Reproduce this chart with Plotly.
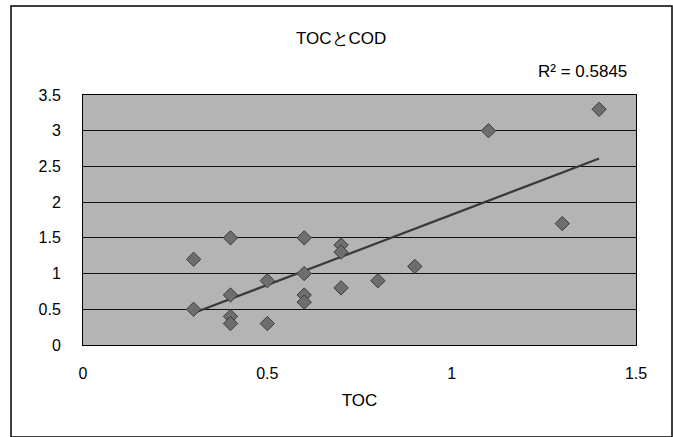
import numpy as np
import plotly.graph_objects as go

toc = [0.3, 0.3, 0.4, 0.4, 0.4, 0.4, 0.5, 0.5, 0.6, 0.6, 0.6, 0.6,
       0.7, 0.7, 0.7, 0.8, 0.9, 1.1, 1.3, 1.4]
cod = [1.2, 0.5, 1.5, 0.7, 0.4, 0.3, 0.9, 0.3, 1.5, 1.0, 0.7, 0.6,
       1.4, 1.3, 0.8, 0.9, 1.1, 3.0, 1.7, 3.3]
x_ticks = [0, 0.5, 1, 1.5]
x_ticktext = ["0", "0.5", "1", "1.5"]
y_ticks = [0, 0.5, 1, 1.5, 2, 2.5, 3, 3.5]
y_ticktext = ["0", "0.5", "1", "1.5", "2", "2.5", "3", "3.5"]
title_text = "TOCとCOD"
r2_text = "R² = 0.5845"
x_title = "TOC"

slope, intercept = np.polyfit(toc, cod, 1)
xfit = [min(toc), max(toc)]
yfit = [slope * v + intercept for v in xfit]

font = "Liberation Sans, Arial, sans-serif"

fig = go.Figure()
fig.add_trace(go.Scatter(
    x=xfit, y=yfit, mode="lines",
    line=dict(color="#3a3a3a", width=2.2), hoverinfo="skip", showlegend=False))
fig.add_trace(go.Scatter(
    x=toc, y=cod, mode="markers",
    marker=dict(symbol="diamond", size=11, color="#6e6e6e",
                line=dict(color="#3c3c3c", width=1)),
    showlegend=False))

fig.update_layout(
    width=673, height=437,
    margin=dict(l=83, r=37, t=95, b=92),
    paper_bgcolor="white",
    plot_bgcolor="#b4b4b4",
    font=dict(family=font, size=16, color="black"),
    showlegend=False,
    annotations=[
        dict(text=title_text, x=(341 - 83) / 553, y=(437 - 38 - 92) / 250,
             xref="paper", yref="paper",
             showarrow=False, font=dict(size=17, family=font),
             xanchor="center", yanchor="middle"),
        dict(text=r2_text, x=(629 - 83) / 553, y=(437 - 72 - 92) / 250,
             xref="paper", yref="paper",
             showarrow=False, font=dict(size=17, family=font),
             xanchor="right", yanchor="middle"),
    ],
    shapes=[
        dict(type="rect", xref="paper", yref="paper",
             x0=(11 - 83) / 553, x1=(672 - 83) / 553,
             y0=(345 - 437) / 250, y1=(345 - 6) / 250,
             line=dict(color="black", width=1.5), fillcolor="rgba(0,0,0,0)"),
    ],
)

fig.update_xaxes(
    range=[0, 1.5], tickvals=x_ticks, ticktext=x_ticktext,
    showgrid=False, zeroline=False,
    showline=True, linecolor="black", linewidth=1, mirror=True,
    ticks="", ticklabelstandoff=14,
    title=dict(text=x_title, font=dict(size=17, family=font), standoff=12),
)
fig.update_yaxes(
    range=[0, 3.5], tickvals=y_ticks, ticktext=y_ticktext,
    showgrid=True, gridcolor="#111111", gridwidth=1, zeroline=False,
    showline=True, linecolor="black", linewidth=1, mirror=True,
    ticks="", ticklabelstandoff=18,
)

fig.write_html("out.html")
